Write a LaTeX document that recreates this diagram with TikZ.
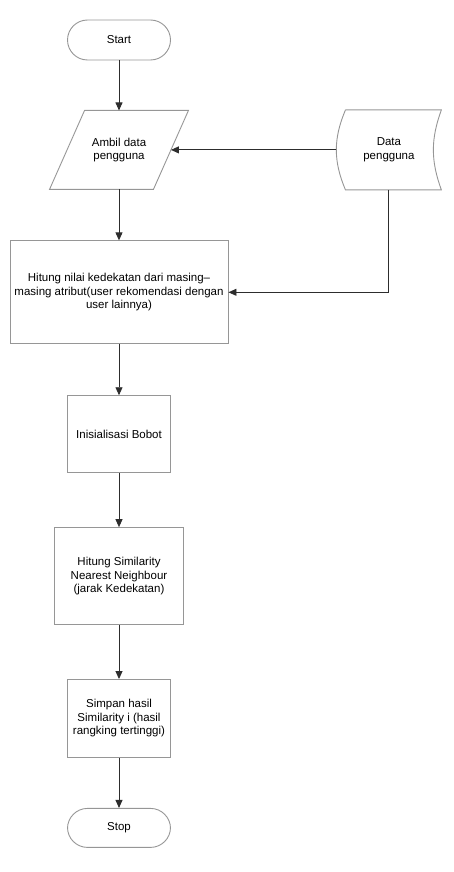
\documentclass[tikz,border=0pt]{standalone}
\usepackage{fontspec}
\setmainfont{Liberation Sans}
\usetikzlibrary{shapes.geometric, arrows.meta, positioning, calc}
\definecolor{bordercolor}{RGB}{150,150,150}
\definecolor{linecolor}{RGB}{45,45,45}

\begin{document}
\begin{tikzpicture}[
    x=1pt, y=1pt,
    node distance=51pt,
    line width=0.9pt,
    terminal/.style={rectangle, draw=bordercolor, rounded corners=20pt, minimum width=103pt, minimum height=40pt},
    io/.style={rectangle, minimum width=103pt, minimum height=78pt, align=center},
    process/.style={rectangle, draw=bordercolor, minimum width=103pt, minimum height=78pt, align=center},
    storage/.style={rectangle, minimum width=104pt, minimum height=79pt, align=center},
    arrow/.style={-{Triangle[width=7pt,length=8pt]}, draw=linecolor},
    font=\fontsize{11.5}{13.5}\selectfont
]
    \useasboundingbox (0,0) rectangle (454,-872);

    % Start
    \node[terminal] (start) at (119,-40) {Start};

    % Input
    \node[io, below=50pt of start] (ambil) {Ambil data\\pengguna};
    \draw[bordercolor] ([xshift=17.5pt]ambil.north west) -- ([xshift=17.5pt]ambil.north east)
        -- ([xshift=-17.5pt]ambil.south east) -- ([xshift=-17.5pt]ambil.south west) -- cycle;
    \node[storage, right=165.5pt of ambil] (dp) {Data\\pengguna};
    \draw[bordercolor] ([xshift=9pt]dp.north west) -- (dp.north east)
        to[bend right=20] (dp.south east)
        -- ([xshift=9pt]dp.south west)
        to[bend left=23] ([xshift=9pt]dp.north west);

    % Processing steps
    \node[process, below=of ambil, minimum width=218pt, minimum height=103pt, inner sep=1pt] (hitung) {Hitung nilai kedekatan dari masing–\\masing atribut(user rekomendasi dengan\\user lainnya)};
    \node[process, below=of hitung, minimum height=77pt] (bobot) {Inisialisasi Bobot};
    \node[process, below=54pt of bobot, minimum width=129pt, minimum height=97pt] (similarity) {Hitung Similarity\\Nearest Neighbour\\(jarak Kedekatan)};
    \node[process, below=54pt of similarity] (simpan) {Simpan hasil\\Similarity i (hasil\\rangking tertinggi)};

    % Stop
    \node[terminal, below=50pt of simpan, minimum height=39pt] (stop) {Stop};

    % Arrows
    \draw[arrow] (start) -- (ambil);
    \draw[arrow] (dp.west) -- (ambil.east);
    \draw[arrow] (ambil) -- (hitung);
    \draw[arrow] (dp.south) |- (hitung.east);
    \draw[arrow] (hitung) -- (bobot);
    \draw[arrow] (bobot) -- (similarity);
    \draw[arrow] (similarity) -- (simpan);
    \draw[arrow] (simpan) -- (stop);

\end{tikzpicture}
\end{document}
